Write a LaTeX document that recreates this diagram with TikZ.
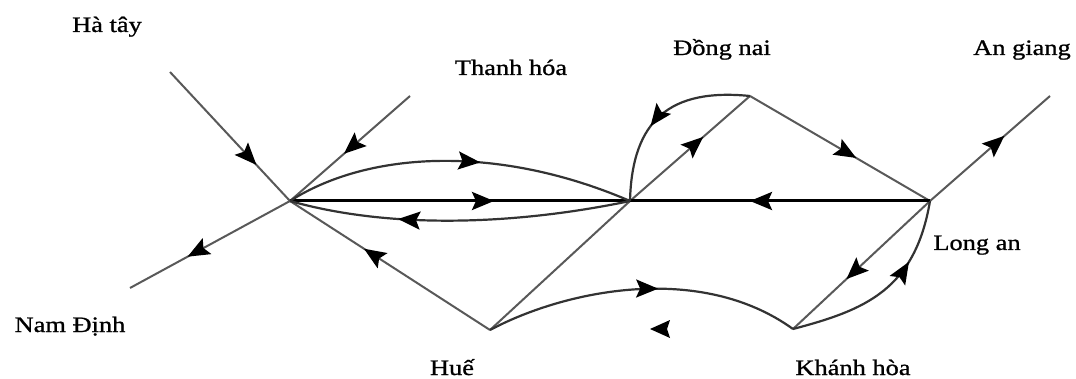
\documentclass[tikz,border=0pt]{standalone}
\usepackage{fontspec}
\setmainfont{Liberation Serif}[FakeStretch=1.2,FakeBold=1]
\usetikzlibrary{arrows.meta,decorations.markings}
\begin{document}
\begin{tikzpicture}[x=1pt,y=-1pt,
  road/.style={draw=black!65,line width=2pt},
  curvy/.style={draw=black!80,line width=2.2pt},
  trunk/.style={draw=black,line width=3pt},
  arr/.style={postaction={decorate},decoration={markings,mark=at position #1 with {\arrow{Stealth[length=22pt,width=18pt,inset=4pt,black]}}}},
  lbl/.style={font=\fontsize{22}{24}\selectfont,inner sep=0pt,anchor=base}]
\useasboundingbox (0,0) rectangle (1076,379);
% points
\coordinate (A) at (290,201);
\coordinate (B) at (630,201);
\coordinate (C) at (750,96);
\coordinate (D) at (930,201);
\coordinate (E) at (490,330);
\coordinate (F) at (793,329);
\coordinate (ht) at (170,72);
\coordinate (tu) at (410,96);
\coordinate (nd) at (130,288);
\coordinate (ag) at (1050,96);
% labels
\node[lbl] (lHT) at (107,32) {Hà tây};
\node[lbl] (lTH) at (511,75) {Thanh hóa};
\node[lbl] (lDN) at (722,55) {Đồng nai};
\node[lbl] (lAG) at (1022,55) {An giang};
\node[lbl] (lLA) at (977,250) {Long an};
\node[lbl] (lND) at (70,332) {Nam Định};
\node[lbl] (lHU) at (452,375) {Huế};
\node[lbl] (lKH) at (853,375) {Khánh hòa};
% connectors
\draw[road,arr=0.72] (ht) -- (A);
\draw[road,arr=0.55] (tu) -- (A);
\draw[road,arr=0.64] (A) -- (nd);
\draw[road,arr=0.63] (E) -- (A);
\draw[road] (E) -- (B);
\draw[road,arr=0.61] (B) -- (C);
\draw[road,arr=0.59] (C) -- (D);
\draw[road,arr=0.61] (D) -- (F);
\draw[road,arr=0.62] (D) -- (ag);
\draw[trunk,arr=0.6] (A) -- (B);
\draw[trunk,arr=0.6] (D) -- (B);
\draw[curvy,arr=0.56] (A) .. controls (370,150) and (500,145) .. (B);
\draw[curvy,arr=0.68] (B) .. controls (530,222) and (400,232) .. (A);
\draw[curvy,arr=0.58] (C) .. controls (670,88) and (632,120) .. (B);
\draw[curvy,arr=0.55] (E) .. controls (565,290) and (700,262) .. (F);
\draw[curvy,arr=0.68] (F) .. controls (865,310) and (915,290) .. (D);
% isolated arrowhead
\fill (650,329) -- (670,320) -- (667,329) -- (670,338) -- cycle;
\end{tikzpicture}
\end{document}
